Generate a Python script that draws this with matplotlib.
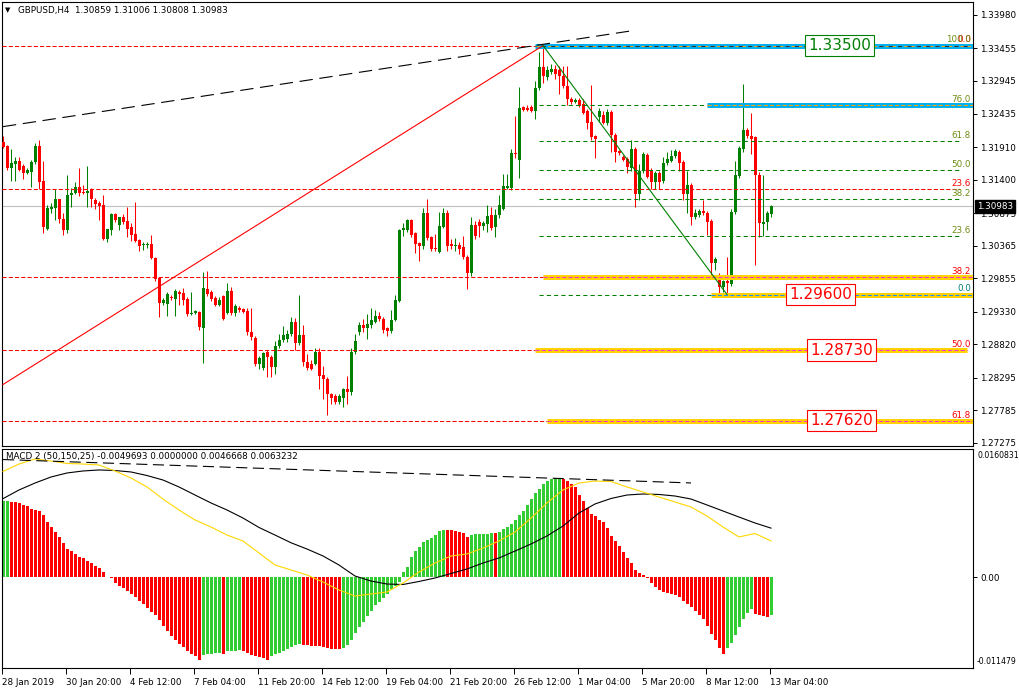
import numpy as np
import matplotlib.pyplot as plt
import matplotlib.transforms as mtransforms

# GBPUSD H4, 28 Jan 2019 .. 13 Mar 2019 04:00
opens = [1.3199, 1.3193, 1.3158, 1.3164, 1.3169, 1.3161, 1.3150, 1.3152, 1.3168, 1.3193,
         1.3138, 1.3063, 1.3094, 1.3096, 1.3110, 1.3078, 1.3061, 1.3116, 1.3119, 1.3128,
         1.3121, 1.3119, 1.3125, 1.3108, 1.3103, 1.3100, 1.3047, 1.3061, 1.3086, 1.3069,
         1.3081, 1.3075, 1.3066, 1.3055, 1.3045, 1.3038, 1.3038, 1.3039, 1.3017, 1.2986,
         1.2947, 1.2945, 1.2956, 1.2953, 1.2964, 1.2962, 1.2953, 1.2929, 1.2931, 1.2933,
         1.2908, 1.2969, 1.2964, 1.2955, 1.2944, 1.2958, 1.2931, 1.2966, 1.2931, 1.2939,
         1.2937, 1.2934, 1.2901, 1.2892, 1.2851, 1.2845, 1.2870, 1.2862, 1.2846, 1.2879,
         1.2889, 1.2890, 1.2898, 1.2917, 1.2884, 1.2897, 1.2854, 1.2851, 1.2851, 1.2870,
         1.2834, 1.2828, 1.2804, 1.2801, 1.2792, 1.2798, 1.2812, 1.2807, 1.2870, 1.2901,
         1.2912, 1.2908, 1.2912, 1.2917, 1.2926, 1.2922, 1.2908, 1.2903, 1.2920, 1.2950,
         1.3061, 1.3061, 1.3077, 1.3056, 1.3041, 1.3036, 1.3088, 1.3050, 1.3033, 1.3027,
         1.3066, 1.3088, 1.3039, 1.3036, 1.3038, 1.3035, 1.3019, 1.2994, 1.3069, 1.3074,
         1.3067, 1.3070, 1.3085, 1.3066, 1.3085, 1.3094, 1.3127, 1.3127, 1.3182, 1.3171,
         1.3253, 1.3252, 1.3254, 1.3248, 1.3284, 1.3317, 1.3301, 1.3308, 1.3314, 1.3312,
         1.3303, 1.3287, 1.3266, 1.3261, 1.3265, 1.3259, 1.3247, 1.3231, 1.3208, 1.3238,
         1.3241, 1.3228, 1.3246, 1.3210, 1.3185, 1.3176, 1.3172, 1.3158, 1.3188, 1.3118,
         1.3153, 1.3179, 1.3155, 1.3136, 1.3150, 1.3138, 1.3166, 1.3169, 1.3177, 1.3183,
         1.3168, 1.3118, 1.3131, 1.3081, 1.3085, 1.3091, 1.3088, 1.3075, 1.3009, 1.2985,
         1.2972, 1.2981, 1.2977, 1.3089, 1.3145, 1.3188, 1.3218, 1.3208, 1.3206, 1.3148,
         1.3070, 1.3074, 1.30859]
highs = [1.3208, 1.3194, 1.3188, 1.3175, 1.3175, 1.3164, 1.3158, 1.3171, 1.3197, 1.3202,
         1.3169, 1.3100, 1.3103, 1.3125, 1.3110, 1.3088, 1.3147, 1.3127, 1.3136, 1.3158,
         1.3132, 1.3161, 1.3127, 1.3111, 1.3107, 1.3116, 1.3063, 1.3088, 1.3088, 1.3081,
         1.3086, 1.3097, 1.3072, 1.3105, 1.3047, 1.3042, 1.3042, 1.3053, 1.3019, 1.2987,
         1.2955, 1.2964, 1.2959, 1.2969, 1.2967, 1.2970, 1.2956, 1.2964, 1.2936, 1.2934,
         1.2995, 1.2997, 1.2967, 1.2958, 1.2956, 1.2959, 1.2978, 1.2972, 1.2945, 1.2942,
         1.2939, 1.2939, 1.2939, 1.2895, 1.2864, 1.2870, 1.2873, 1.2865, 1.2887, 1.2898,
         1.2911, 1.2904, 1.2925, 1.2923, 1.2959, 1.2912, 1.2867, 1.2857, 1.2876, 1.2876,
         1.2848, 1.2831, 1.2806, 1.2804, 1.2804, 1.2814, 1.2832, 1.2876, 1.2898, 1.2917,
         1.2922, 1.2929, 1.2939, 1.2936, 1.2933, 1.2925, 1.2909, 1.2936, 1.2959, 1.3063,
         1.3072, 1.3078, 1.3078, 1.3058, 1.3042, 1.3096, 1.3110, 1.3052, 1.3055, 1.3089,
         1.3096, 1.3092, 1.3047, 1.3049, 1.3042, 1.3052, 1.3022, 1.3081, 1.3075, 1.3078,
         1.3075, 1.3100, 1.3097, 1.3094, 1.3116, 1.3149, 1.3149, 1.3188, 1.3240, 1.3285,
         1.3255, 1.3257, 1.3257, 1.3295, 1.3340, 1.3350, 1.3318, 1.3321, 1.3320, 1.3318,
         1.3318, 1.3318, 1.3269, 1.3268, 1.3268, 1.3266, 1.3251, 1.3288, 1.3210, 1.3252,
         1.3247, 1.3251, 1.3249, 1.3213, 1.3186, 1.3179, 1.3176, 1.3202, 1.3191, 1.3164,
         1.3183, 1.3182, 1.3158, 1.3153, 1.3153, 1.3176, 1.3183, 1.3186, 1.3188, 1.3186,
         1.3171, 1.3153, 1.3135, 1.3094, 1.3094, 1.3108, 1.3091, 1.3078, 1.3019, 1.2994,
         1.2983, 1.3019, 1.3094, 1.3169, 1.3193, 1.3290, 1.3221, 1.3244, 1.3208, 1.3152,
         1.3148, 1.3091, 1.31006]
lows = [1.3189, 1.3155, 1.3138, 1.3138, 1.3153, 1.3141, 1.3149, 1.3128, 1.3164, 1.3125,
        1.3056, 1.3061, 1.3088, 1.3077, 1.3072, 1.3053, 1.3056, 1.3097, 1.3117, 1.3114,
        1.3117, 1.3097, 1.3097, 1.3094, 1.3077, 1.3045, 1.3042, 1.3053, 1.3074, 1.3061,
        1.3070, 1.3050, 1.3044, 1.3042, 1.3028, 1.3030, 1.3033, 1.3016, 1.2981, 1.2925,
        1.2944, 1.2926, 1.2951, 1.2926, 1.2944, 1.2944, 1.2926, 1.2928, 1.2929, 1.2904,
        1.2853, 1.2958, 1.2950, 1.2942, 1.2942, 1.2920, 1.2929, 1.2928, 1.2926, 1.2933,
        1.2931, 1.2897, 1.2889, 1.2848, 1.2843, 1.2842, 1.2831, 1.2831, 1.2835, 1.2876,
        1.2886, 1.2886, 1.2895, 1.2873, 1.2881, 1.2848, 1.2842, 1.2842, 1.2850, 1.2812,
        1.2796, 1.2771, 1.2788, 1.2788, 1.2788, 1.2784, 1.2788, 1.2803, 1.2867, 1.2897,
        1.2901, 1.2890, 1.2908, 1.2915, 1.2918, 1.2900, 1.2895, 1.2900, 1.2918, 1.2948,
        1.3052, 1.3058, 1.3050, 1.3025, 1.3013, 1.3031, 1.3045, 1.3028, 1.3028, 1.3025,
        1.3064, 1.3028, 1.3031, 1.3028, 1.3024, 1.3016, 1.2969, 1.2989, 1.3047, 1.3050,
        1.3061, 1.3058, 1.3061, 1.3050, 1.3080, 1.3092, 1.3125, 1.3124, 1.3174, 1.3143,
        1.3247, 1.3247, 1.3246, 1.3235, 1.3280, 1.3291, 1.3296, 1.3305, 1.3298, 1.3274,
        1.3284, 1.3257, 1.3259, 1.3260, 1.3254, 1.3243, 1.3220, 1.3202, 1.3174, 1.3231,
        1.3227, 1.3226, 1.3183, 1.3168, 1.3179, 1.3169, 1.3150, 1.3153, 1.3097, 1.3108,
        1.3150, 1.3142, 1.3126, 1.3126, 1.3126, 1.3135, 1.3163, 1.3168, 1.3174, 1.3153,
        1.3108, 1.3088, 1.3069, 1.3078, 1.3081, 1.3085, 1.3053, 1.2989, 1.2999, 1.2961,
        1.2964, 1.2960, 1.2973, 1.3086, 1.3143, 1.3183, 1.3205, 1.3180, 1.3006, 1.3050,
        1.3051, 1.3061, 1.30808]
closes = [1.3191, 1.3158, 1.3166, 1.3169, 1.3155, 1.3150, 1.3155, 1.3168, 1.3193, 1.3136,
          1.3066, 1.3096, 1.3097, 1.3110, 1.3078, 1.3061, 1.3116, 1.3119, 1.3128, 1.3119,
          1.3119, 1.3122, 1.3110, 1.3102, 1.3099, 1.3047, 1.3063, 1.3086, 1.3077, 1.3081,
          1.3074, 1.3063, 1.3053, 1.3044, 1.3036, 1.3039, 1.3039, 1.3017, 1.2984, 1.2947,
          1.2951, 1.2961, 1.2955, 1.2965, 1.2961, 1.2951, 1.2929, 1.2931, 1.2934, 1.2909,
          1.2970, 1.2961, 1.2953, 1.2944, 1.2951, 1.2922, 1.2966, 1.2931, 1.2942, 1.2936,
          1.2933, 1.2901, 1.2893, 1.2851, 1.2861, 1.2868, 1.2862, 1.2846, 1.2879, 1.2889,
          1.2897, 1.2898, 1.2917, 1.2884, 1.2897, 1.2854, 1.2845, 1.2843, 1.2870, 1.2832,
          1.2828, 1.2804, 1.2798, 1.2792, 1.2801, 1.2812, 1.2807, 1.2870, 1.2887, 1.2912,
          1.2908, 1.2914, 1.2920, 1.2926, 1.2922, 1.2904, 1.2903, 1.2920, 1.2951, 1.3061,
          1.3064, 1.3077, 1.3053, 1.3039, 1.3036, 1.3088, 1.3049, 1.3031, 1.3031, 1.3067,
          1.3088, 1.3036, 1.3036, 1.3038, 1.3031, 1.3019, 1.2994, 1.3069, 1.3052, 1.3067,
          1.3072, 1.3083, 1.3064, 1.3085, 1.3100, 1.3130, 1.3130, 1.3182, 1.3180, 1.3252,
          1.3249, 1.3249, 1.3248, 1.3284, 1.3317, 1.3303, 1.3311, 1.3314, 1.3306, 1.3303,
          1.3287, 1.3266, 1.3261, 1.3265, 1.3255, 1.3244, 1.3229, 1.3206, 1.3204, 1.3247,
          1.3228, 1.3246, 1.3210, 1.3183, 1.3182, 1.3171, 1.3159, 1.3188, 1.3118, 1.3153,
          1.3180, 1.3144, 1.3136, 1.3150, 1.3136, 1.3166, 1.3172, 1.3177, 1.3185, 1.3166,
          1.3118, 1.3131, 1.3081, 1.3088, 1.3091, 1.3088, 1.3074, 1.3009, 1.3015, 1.2972,
          1.2981, 1.2978, 1.3089, 1.3147, 1.3190, 1.3218, 1.3208, 1.3204, 1.3147, 1.3072,
          1.3074, 1.3088, 1.30983]

# MACD 2 (50,150,25) histogram, one value per bar
macd_hist = [0.00978, 0.00983, 0.00971, 0.00971, 0.00958, 0.00936, 0.00913, 0.00884, 0.00867, 0.00854,
             0.00804, 0.00712, 0.00641, 0.00580, 0.00514, 0.00443, 0.00358, 0.00336, 0.00303, 0.00256,
             0.00242, 0.00208, 0.00181, 0.00148, 0.00115, 0.00069, 0.00006, -0.00013, -0.00072, -0.00119,
             -0.00148, -0.00181, -0.00214, -0.00260, -0.00307, -0.00353, -0.00400, -0.00448, -0.00494, -0.00555,
             -0.00635, -0.00696, -0.00757, -0.00814, -0.00861, -0.00907, -0.00954, -0.00991, -0.01025, -0.01071,
             -0.01009, -0.01000, -0.00991, -0.00987, -0.00983, -0.00991, -0.00963, -0.00958, -0.00954, -0.00945,
             -0.00963, -0.00977, -0.01009, -0.01025, -0.01035, -0.01048, -0.01071, -0.01022, -0.00996, -0.00977,
             -0.00954, -0.00932, -0.00906, -0.00884, -0.00867, -0.00884, -0.00886, -0.00889, -0.00893, -0.00897,
             -0.00906, -0.00914, -0.00932, -0.00936, -0.00938, -0.00919, -0.00880, -0.00815, -0.00725, -0.00647,
             -0.00582, -0.00505, -0.00440, -0.00362, -0.00324, -0.00272, -0.00214, -0.00155, -0.00110, -0.00065,
             0.00069, 0.00129, 0.00259, 0.00336, 0.00382, 0.00453, 0.00479, 0.00499, 0.00546, 0.00595,
             0.00608, 0.00603, 0.00603, 0.00600, 0.00582, 0.00569, 0.00523, 0.00546, 0.00550, 0.00554,
             0.00556, 0.00562, 0.00569, 0.00564, 0.00582, 0.00621, 0.00641, 0.00686, 0.00743, 0.00802,
             0.00860, 0.00930, 0.01003, 0.01082, 0.01145, 0.01197, 0.01240, 0.01266, 0.01281, 0.01285,
             0.01266, 0.01240, 0.01197, 0.01161, 0.01056, 0.00977, 0.00898, 0.00819, 0.00792, 0.00740,
             0.00713, 0.00634, 0.00529, 0.00461, 0.00397, 0.00318, 0.00251, 0.00177, 0.00093, 0.00056,
             0.00030, -0.00008, -0.00075, -0.00128, -0.00171, -0.00192, -0.00207, -0.00223, -0.00233, -0.00260,
             -0.00312, -0.00349, -0.00391, -0.00444, -0.00497, -0.00549, -0.00628, -0.00734, -0.00813, -0.00917,
             -0.00996, -0.00919, -0.00854, -0.00751, -0.00647, -0.00543, -0.00466, -0.00414, -0.00479, -0.00497,
             -0.00507, -0.00512, -0.0049693]

# black and yellow MACD lines, read at every 4th bar
line_bars = [0, 4, 8, 12, 16, 20, 24, 28, 32, 36, 40, 44, 48, 52, 56, 60, 64, 68, 72, 76, 80, 84, 88, 92,
             96, 100, 104, 108, 112, 116, 120, 124, 128, 132, 136, 140, 144, 148, 152, 156, 160, 164, 168,
             172, 176, 180, 184, 188, 192]
black_line = [0.01014, 0.01126, 0.01216, 0.01294, 0.01346, 0.01372, 0.01385, 0.01378, 0.01359, 0.01313,
              0.01255, 0.01165, 0.01061, 0.00958, 0.00867, 0.00763, 0.00641, 0.00543, 0.00443, 0.00362,
              0.00272, 0.00155, 0.00013, -0.00052, -0.00091, -0.00097, -0.00058, -0.00013, 0.00045, 0.00104,
              0.00181, 0.00246, 0.00336, 0.00427, 0.00531, 0.00660, 0.00828, 0.00945, 0.01016, 0.01061,
              0.01074, 0.01068, 0.01048, 0.01009, 0.00932, 0.00854, 0.00776, 0.00699, 0.0063232]
yellow_line = [0.01366, 0.01462, 0.01527, 0.01501, 0.01469, 0.01462, 0.01449, 0.01372, 0.01281, 0.01165,
               0.01009, 0.00867, 0.00738, 0.00647, 0.00543, 0.00466, 0.00311, 0.00155, 0.00091, 0.00026,
               -0.00065, -0.00168, -0.00246, -0.00220, -0.00194, -0.00078, 0.00065, 0.00181, 0.00272, 0.00298,
               0.00375, 0.00466, 0.00582, 0.00763, 0.00958, 0.01126, 0.01216, 0.01242, 0.01236, 0.01165,
               0.01100, 0.01035, 0.00971, 0.00906, 0.00789, 0.00647, 0.00518, 0.00563, 0.0046668]

date_labels = ['28 Jan 2019', '30 Jan 20:00', '4 Feb 12:00', '7 Feb 04:00', '11 Feb 20:00',
               '14 Feb 12:00', '19 Feb 04:00', '21 Feb 20:00', '26 Feb 12:00', '1 Mar 04:00',
               '5 Mar 20:00', '8 Mar 12:00', '13 Mar 04:00']
price_ticks = [1.33980, 1.33455, 1.32945, 1.32435, 1.31910, 1.31400, 1.30875,
               1.30365, 1.29855, 1.29330, 1.28820, 1.28295, 1.27785, 1.27275]

# fibonacci levels (price, label)
green_fib = [(1.3350, '100.0'), (1.32564, '76.0'), (1.3201, '61.8'), (1.3155, '50.0'),
             (1.3109, '38.2'), (1.3052, '23.6'), (1.2960, '0.0')]
red_fib = [(1.3350, '0.0'), (1.31256, '23.6'), (1.29867, '38.2'), (1.2873, '50.0'), (1.2762, '61.8')]

# trend lines: (bar, price) pairs
red_trend = ([0, 135], [1.2819, 1.3350])
black_trend = ([0, 157], [1.3223, 1.3373])
green_trend = ([135, 181], [1.3350, 1.2960])
macd_trend = ([0, 172], [0.01520, 0.01217])

W, H = 1019, 690
FS = 6.3
plt.rcParams['font.family'] = ['DejaVu Sans']

fig = plt.figure(figsize=(W / 100, H / 100), dpi=100)
ax = fig.add_axes([2 / W, 244 / H, 971 / W, 444 / H])
ax2 = fig.add_axes([2 / W, 22 / H, 971 / W, 219 / H])

XR = 242.5
for a in (ax, ax2):
    a.set_xlim(-0.25, XR)
    for s in a.spines.values():
        s.set_linewidth(0.8)
ax.set_ylim(1.272265, 1.341827)
ax2.set_ylim(-0.011775, 0.016563)

GREEN = '#008000'
RED = '#ff0000'
o = np.array(opens)
h = np.array(highs)
l = np.array(lows)
c = np.array(closes)
idx = np.arange(len(c))

# current price line
ax.axhline(c[-1], color='#c0c0c0', lw=0.8, zorder=1)

# candles
col = np.where(c >= o, GREEN, RED)
ax.vlines(idx, l, h, colors=col, lw=0.75, zorder=3)
body_lo = np.minimum(o, c)
body_h = np.maximum(np.abs(c - o), 0.00013)
ax.bar(idx, body_h, bottom=body_lo, width=0.75, color=col, lw=0, zorder=3)

# red fib (dashed) and the highlighted zones
red_ends = {'0.0': 133, '23.6': 239.25, '38.2': 135, '50.0': 133, '61.8': 136}
for p, lab in red_fib:
    ax.hlines(p, -0.25, red_ends[lab], colors=RED, lw=0.75, linestyles=(0, (4, 2)), zorder=4)

gold_zones = [(1.29867, 135, XR, '#ff33cc'), (1.2873, 133, 241, '#ff33cc'),
              (1.2762, 136, XR, '#ff33cc'), (1.2960, 177, XR, '#1e90ff')]
for p, x0, x1, dc in gold_zones:
    ax.hlines(p, x0, x1, colors='#ffd200', lw=3.6, zorder=4)
    ax.hlines(p, x0, x1, colors=dc, lw=0.75, linestyles=(0, (4, 2)), zorder=5)

cyan_zones = [(1.3350, 133), (1.32564, 176)]
for p, x0 in cyan_zones:
    ax.hlines(p, x0, XR, colors='#00b0f0', lw=3.6, zorder=4)
    ax.hlines(p, x0, XR, colors='#ffa500', lw=0.75, linestyles=(0, (4, 2)), zorder=5)
ax.hlines(1.3350, 133, XR, colors='#303030', lw=0.75, linestyles=(3, (4, 5)), zorder=5)

# green fib
green_ends = {'100.0': None, '76.0': 176, '0.0': 177}
for p, lab in green_fib:
    end = green_ends.get(lab, 239.25)
    if end is not None:
        ax.hlines(p, 134, end, colors=GREEN, lw=0.75, linestyles=(0, (4, 3)), zorder=4)

# level labels (red ones first, the green fib text is drawn on top)
for p, lab in red_fib:
    ax.annotate(lab, (242.0, p), xytext=(0, 0.8), textcoords='offset points',
                ha='right', va='bottom', fontsize=FS, color=RED, zorder=6)
for p, lab in green_fib:
    lc = '#008080' if lab == '0.0' else '#6e8c14'
    ax.annotate(lab, (242.0, p), xytext=(0, 0.8), textcoords='offset points',
                ha='right', va='bottom', fontsize=FS, color=lc, zorder=7)

# trend lines
ax.plot(*red_trend, color=RED, lw=0.8, zorder=5)
ax.plot(*green_trend, color=GREEN, lw=0.8, zorder=5)
ax.plot(black_trend[0], black_trend[1], color='black', lw=0.8, ls=(0, (12, 6)), zorder=5)

# price boxes
boxes = [(1.3350, '1.33500', 201.3, '#008000'), (1.2960, '1.29600', 196.5, RED),
         (1.2873, '1.28730', 201.8, RED), (1.2762, '1.27620', 201.8, RED)]
for p, txt, x, bc in boxes:
    ax.text(x, p, txt, fontsize=11, color=bc, ha='left', va='center', zorder=8,
            bbox=dict(boxstyle='square,pad=0.2', facecolor='white', edgecolor=bc, lw=0.8))

# right price axis
ax.set_xticks([])
ax.yaxis.tick_right()
ax.set_yticks(price_ticks)
ax.set_yticklabels([f'{p:.5f}' for p in price_ticks])
ax.tick_params(axis='y', length=3, width=0.7, pad=2, labelsize=FS)

trans = mtransforms.blended_transform_factory(ax.transAxes, ax.transData)
ax.text(1.004, c[-1], f'{c[-1]:.5f}', transform=trans, ha='left', va='center',
        fontsize=FS, color='white', zorder=8,
        bbox=dict(boxstyle='square,pad=0.25', facecolor='black', edgecolor='black'))

# MACD panel
hist = np.array(macd_hist)
rising = np.concatenate([[True], hist[1:] > hist[:-1]])
hcol = np.where(rising, '#32cd32', RED)
ax2.bar(idx, hist, width=0.75, color=hcol, lw=0, zorder=2)
ax2.plot(line_bars, black_line, color='black', lw=0.8, zorder=3)
ax2.plot(line_bars, yellow_line, color='#ffd700', lw=0.8, zorder=3)
ax2.plot(macd_trend[0], macd_trend[1], color='black', lw=0.8, ls=(0, (10, 5)), zorder=4)

ax2.yaxis.tick_right()
ax2.set_yticks([0.0])
ax2.set_yticklabels(['0.00'])
ax2.tick_params(axis='y', length=3, width=0.7, pad=2, labelsize=FS)
ax2.set_xticks([16 * k - 0.25 for k in range(len(date_labels))])
ax2.set_xticklabels(date_labels)
ax2.tick_params(axis='x', length=4, width=0.7, pad=3, labelsize=FS)
for lbl in ax2.get_xticklabels():
    lbl.set_horizontalalignment('left')

fig.text(977 / W, 1 - 455 / H, '0.0160831', fontsize=5.6, ha='left', va='center')
fig.text(977 / W, 1 - 662 / H, '-0.011479', fontsize=5.6, ha='left', va='center')

# headers
fig.text(5 / W, 1 - 10 / H, '\u25bc', fontsize=5, ha='left', va='center')
fig.text(18 / W, 1 - 10 / H, 'GBPUSD,H4  1.30859 1.31006 1.30808 1.30983',
         fontsize=FS, ha='left', va='center')
fig.text(6 / W, 1 - 457 / H, 'MACD 2 (50,150,25) -0.0049693 0.0000000 0.0046668 0.0063232',
         fontsize=FS, ha='left', va='center')

fig.savefig('out.png', dpi=100)
